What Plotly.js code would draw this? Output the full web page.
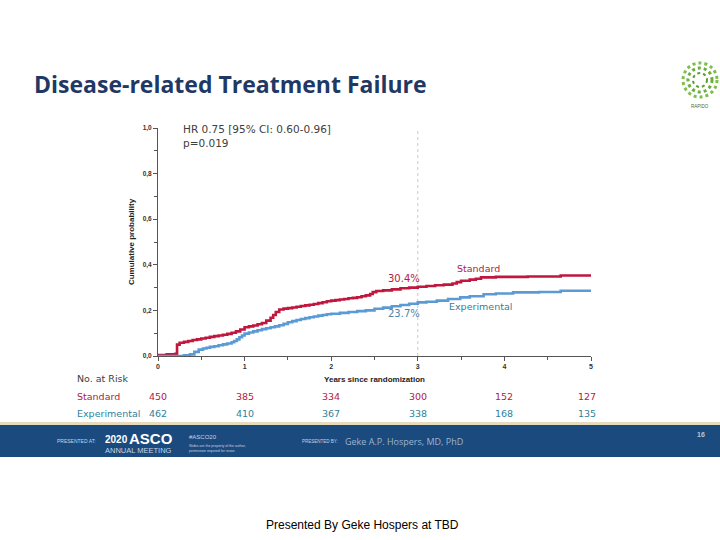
<!DOCTYPE html>
<html>
<head>
<meta charset="utf-8">
<script src="https://cdn.plot.ly/plotly-3.0.1.min.js"></script>
<style>html,body{margin:0;padding:0;background:#fff}#chart{width:720px;height:540px}</style>
</head>
<body>
<div id="chart"></div>
<script>
// ---- Data ----
const standardTimes = [0, 0.1, 0.2, 0.22, 0.25, 0.3, 0.35, 0.4, 0.45, 0.5, 0.55, 0.6, 0.65, 0.7, 0.75, 0.8, 0.85, 0.9, 0.95, 1.0, 1.05, 1.1, 1.15, 1.2, 1.25, 1.3, 1.33, 1.36, 1.4, 1.45, 1.5, 1.55, 1.6, 1.65, 1.7, 1.75, 1.8, 1.85, 1.9, 1.95, 2.0, 2.05, 2.1, 2.15, 2.2, 2.25, 2.3, 2.35, 2.4, 2.45, 2.48, 2.52, 2.6, 2.7, 2.8, 2.9, 3.0, 3.1, 3.2, 3.3, 3.4, 3.45, 3.5, 3.6, 3.67, 3.73, 3.9, 4.27, 4.65, 5.0];
const standardCum   = [0.004, 0.007, 0.01, 0.05, 0.058, 0.062, 0.066, 0.07, 0.073, 0.077, 0.08, 0.084, 0.087, 0.09, 0.093, 0.097, 0.102, 0.108, 0.116, 0.126, 0.13, 0.134, 0.139, 0.145, 0.155, 0.168, 0.18, 0.193, 0.204, 0.208, 0.21, 0.213, 0.216, 0.219, 0.222, 0.225, 0.228, 0.232, 0.236, 0.24, 0.243, 0.245, 0.248, 0.25, 0.253, 0.255, 0.258, 0.262, 0.266, 0.272, 0.28, 0.285, 0.288, 0.292, 0.297, 0.300, 0.304, 0.307, 0.310, 0.313, 0.318, 0.324, 0.33, 0.335, 0.339, 0.345, 0.347, 0.349, 0.353, 0.353];
const experimentalTimes = [0, 0.3, 0.37, 0.42, 0.47, 0.52, 0.56, 0.6, 0.65, 0.7, 0.75, 0.8, 0.85, 0.88, 0.91, 0.94, 0.97, 1.0, 1.05, 1.1, 1.15, 1.2, 1.25, 1.3, 1.35, 1.4, 1.45, 1.5, 1.55, 1.6, 1.65, 1.7, 1.75, 1.8, 1.85, 1.9, 1.95, 2.0, 2.1, 2.2, 2.3, 2.4, 2.5, 2.6, 2.7, 2.8, 2.9, 3.0, 3.1, 3.22, 3.35, 3.49, 3.6, 3.76, 3.9, 4.1, 4.4, 4.65, 5.0];
const experimentalCum   = [0, 0.003, 0.007, 0.018, 0.028, 0.033, 0.036, 0.04, 0.043, 0.047, 0.051, 0.055, 0.06, 0.066, 0.073, 0.082, 0.09, 0.098, 0.103, 0.108, 0.113, 0.118, 0.122, 0.126, 0.13, 0.135, 0.141, 0.148, 0.153, 0.158, 0.162, 0.166, 0.17, 0.173, 0.177, 0.18, 0.183, 0.185, 0.189, 0.193, 0.197, 0.2, 0.207, 0.212, 0.218, 0.224, 0.229, 0.235, 0.238, 0.243, 0.25, 0.257, 0.262, 0.271, 0.274, 0.279, 0.281, 0.286, 0.286];

const xTickVals = [0, 1, 2, 3, 4, 5];
const xTickText = ['0', '1', '2', '3', '4', '5'];
const yTickVals = [0, 0.2, 0.4, 0.6, 0.8, 1.0];
const yTickText = ['0,0', '0,2', '0,4', '0,6', '0,8', '1,0'];

const riskTimes = [0, 1, 2, 3, 4, 5];
const riskStandard = [450, 385, 334, 300, 152, 127];
const riskExperimental = [462, 410, 367, 338, 168, 135];

const landmarkTime = 3;
const landmarkStandard = '30.4%';
const landmarkExperimental = '23.7%';
const seriesNames = ['Standard', 'Experimental'];
// --------------------------------------

const RED = '#c0173f';
const BLUE = '#5b9bd5';
const RED_TXT = '#b5203f';
const TEAL_TXT = '#2f7f9c';
const TXT_FONT = 'DejaVu Sans';

const traces = [
  {x: standardTimes, y: standardCum, type: 'scatter', mode: 'lines', line: {shape: 'hv', color: RED, width: 2.6}, name: seriesNames[0], hoverinfo: 'skip'},
  {x: experimentalTimes, y: experimentalCum, type: 'scatter', mode: 'lines', line: {shape: 'hv', color: BLUE, width: 2.6}, name: seriesNames[1], hoverinfo: 'skip'}
];

function py(p) { return (540 - p) / 540; }
function px(p) { return p / 720; }

const ann = [];
// Title
ann.push({text: '<b>Disease-related Treatment Failure</b>', xref: 'paper', yref: 'paper', x: px(32), y: py(84), xanchor: 'left', yanchor: 'middle', showarrow: false, font: {family: 'Open Sans', size: 23, color: '#1f3864'}});
// HR text
ann.push({text: 'HR 0.75 [95% CI: 0.60-0.96]<br>p=0.019', xref: 'paper', yref: 'paper', x: px(181), y: py(121), xanchor: 'left', yanchor: 'top', align: 'left', showarrow: false, font: {family: TXT_FONT, size: 10.5, color: '#404040'}});
// Landmark labels
ann.push({text: landmarkStandard, xref: 'x', yref: 'y', x: 2.84, y: 0.34, showarrow: false, font: {family: TXT_FONT, size: 10, color: RED_TXT}});
ann.push({text: landmarkExperimental, xref: 'x', yref: 'y', x: 2.84, y: 0.187, showarrow: false, font: {family: TXT_FONT, size: 10, color: '#4a86a8'}});
ann.push({text: seriesNames[0], xref: 'x', yref: 'y', x: 3.70, y: 0.384, showarrow: false, font: {family: TXT_FONT, size: 9.5, color: RED_TXT}});
ann.push({text: seriesNames[1], xref: 'x', yref: 'y', x: 3.72, y: 0.217, showarrow: false, font: {family: TXT_FONT, size: 9.5, color: TEAL_TXT}});
// Risk table
ann.push({text: 'No. at Risk', xref: 'paper', yref: 'paper', x: px(75), y: py(378), xanchor: 'left', yanchor: 'middle', showarrow: false, font: {family: TXT_FONT, size: 9.5, color: '#404040'}});
ann.push({text: seriesNames[0], xref: 'paper', yref: 'paper', x: px(75), y: py(396), xanchor: 'left', yanchor: 'middle', showarrow: false, font: {family: TXT_FONT, size: 9.5, color: RED_TXT}});
ann.push({text: seriesNames[1], xref: 'paper', yref: 'paper', x: px(75), y: py(413), xanchor: 'left', yanchor: 'middle', showarrow: false, font: {family: TXT_FONT, size: 9.5, color: TEAL_TXT}});
riskTimes.forEach((t, i) => {
  ann.push({text: String(riskStandard[i]), xref: 'x', yref: 'paper', x: t, y: py(396), xanchor: 'center', yanchor: 'middle', xshift: i === riskTimes.length - 1 ? -4 : 0, showarrow: false, font: {family: TXT_FONT, size: 9.5, color: RED_TXT}});
  ann.push({text: String(riskExperimental[i]), xref: 'x', yref: 'paper', x: t, y: py(413), xanchor: 'center', yanchor: 'middle', xshift: i === riskTimes.length - 1 ? -4 : 0, showarrow: false, font: {family: TXT_FONT, size: 9.5, color: TEAL_TXT}});
});
// Footer band texts
ann.push({text: 'PRESENTED AT:', xref: 'paper', yref: 'paper', x: px(55), y: py(441), xanchor: 'left', yanchor: 'middle', showarrow: false, font: {family: 'Liberation Sans', size: 5, color: '#c9d3e0'}});
ann.push({text: '<b>2020</b>', xref: 'paper', yref: 'paper', x: px(103), y: py(439), xanchor: 'left', yanchor: 'middle', showarrow: false, font: {family: 'Liberation Sans', size: 10, color: '#ffffff'}});
ann.push({text: '<b>ASCO</b>', xref: 'paper', yref: 'paper', x: px(127), y: py(438), xanchor: 'left', yanchor: 'middle', showarrow: false, font: {family: 'Liberation Sans', size: 15, color: '#ffffff'}});
ann.push({text: 'ANNUAL MEETING', xref: 'paper', yref: 'paper', x: px(103), y: py(450), xanchor: 'left', yanchor: 'middle', showarrow: false, font: {family: 'Liberation Sans', size: 7.5, color: '#c9d3e0'}});
ann.push({text: '#ASCO20', xref: 'paper', yref: 'paper', x: px(187), y: py(437), xanchor: 'left', yanchor: 'middle', showarrow: false, font: {family: 'Liberation Sans', size: 6, color: '#c9d3e0'}});
ann.push({text: 'Slides are the property of the author,<br>permission required for reuse.', xref: 'paper', yref: 'paper', x: px(187), y: py(448), xanchor: 'left', yanchor: 'middle', align: 'left', showarrow: false, font: {family: 'Liberation Sans', size: 3.5, color: '#c9d3e0'}});
ann.push({text: 'PRESENTED BY:', xref: 'paper', yref: 'paper', x: px(300), y: py(441), xanchor: 'left', yanchor: 'middle', showarrow: false, font: {family: 'Liberation Sans', size: 4.5, color: '#c9d3e0'}});
ann.push({text: 'Geke A.P. Hospers, MD, PhD', xref: 'paper', yref: 'paper', x: px(343), y: py(441), xanchor: 'left', yanchor: 'middle', showarrow: false, font: {family: 'Open Sans', size: 9, color: '#9fb4cf'}});
ann.push({text: '<b>16</b>', xref: 'paper', yref: 'paper', x: px(701), y: py(434), xanchor: 'center', yanchor: 'middle', showarrow: false, font: {family: 'Liberation Sans', size: 7, color: '#b8c6d8'}});
// Bottom caption
ann.push({text: 'Presented By Geke Hospers at TBD', xref: 'paper', yref: 'paper', x: px(362), y: py(525), xanchor: 'center', yanchor: 'middle', showarrow: false, font: {family: 'Liberation Sans', size: 12, color: '#000000'}});
// Logo text
ann.push({text: 'RAPIDO', xref: 'paper', yref: 'paper', x: px(700), y: py(106), xanchor: 'center', yanchor: 'middle', showarrow: false, font: {family: 'Liberation Sans', size: 4.5, color: '#4a6a3a'}});

const shapes = [
  // landmark dotted line
  {type: 'line', xref: 'x', yref: 'y', x0: landmarkTime, x1: landmarkTime, y0: 0, y1: 1, line: {color: '#c8c8c8', width: 1, dash: 'dot'}, layer: 'below'},
  // footer band
  {type: 'rect', xref: 'paper', yref: 'paper', x0: 0, x1: 1, y0: py(457), y1: py(425), fillcolor: '#1b4a7e', line: {width: 0}},
  {type: 'rect', xref: 'paper', yref: 'paper', x0: 0, x1: 1, y0: py(425), y1: py(422), fillcolor: '#e6dcbc', line: {width: 0}},
  // logo rings
  {type: 'circle', xref: 'paper', yref: 'paper', xsizemode: 'pixel', ysizemode: 'pixel', xanchor: px(700), yanchor: py(80), x0: -17, x1: 17, y0: -17, y1: 17, line: {color: '#7cbf4a', width: 3, dash: 'dot'}},
  {type: 'circle', xref: 'paper', yref: 'paper', xsizemode: 'pixel', ysizemode: 'pixel', xanchor: px(700), yanchor: py(80), x0: -12, x1: 12, y0: -12, y1: 12, line: {color: '#6aae3c', width: 3, dash: 'dot'}},
  {type: 'circle', xref: 'paper', yref: 'paper', xsizemode: 'pixel', ysizemode: 'pixel', xanchor: px(700), yanchor: py(80), x0: -7, x1: 7, y0: -7, y1: 7, line: {color: '#5a9e32', width: 2, dash: 'dot'}}
];

const layout = {
  width: 720, height: 540,
  margin: {l: 0, r: 0, t: 0, b: 0},
  paper_bgcolor: '#ffffff', plot_bgcolor: '#ffffff',
  showlegend: false,
  xaxis: {
    domain: [px(158), px(591)], range: [0, 5],
    showline: true, linecolor: '#555555', linewidth: 1,
    showgrid: false, zeroline: false,
    tickmode: 'array', tickvals: xTickVals, ticktext: xTickText,
    ticks: 'outside', ticklen: 4, tickcolor: '#555555',
    minor: {tickvals: [0.5, 1.5, 2.5, 3.5, 4.5], ticks: 'outside', ticklen: 3, tickcolor: '#555555'},
    tickfont: {family: 'Liberation Sans', size: 7, color: '#333333', weight: 'bold'},
    title: {text: 'Years since randomization', standoff: 6, font: {family: 'Liberation Sans', size: 8, color: '#222222', weight: 'bold'}}
  },
  yaxis: {
    domain: [py(356), py(128)], range: [0, 1],
    showline: true, linecolor: '#555555', linewidth: 1,
    showgrid: false, zeroline: false,
    tickmode: 'array', tickvals: yTickVals, ticktext: yTickText,
    ticks: 'outside', ticklen: 4, tickcolor: '#555555',
    minor: {tickvals: [0.1, 0.3, 0.5, 0.7, 0.9], ticks: 'outside', ticklen: 3, tickcolor: '#555555'},
    tickfont: {family: 'Liberation Sans', size: 6.5, color: '#333333', weight: 'bold'},
    title: {text: 'Cumulative probability', standoff: 6, font: {family: 'Liberation Sans', size: 8, color: '#222222', weight: 'bold'}}
  },
  annotations: ann,
  shapes: shapes
};

Plotly.newPlot('chart', traces, layout, {staticPlot: true, displayModeBar: false});
</script>
</body>
</html>
